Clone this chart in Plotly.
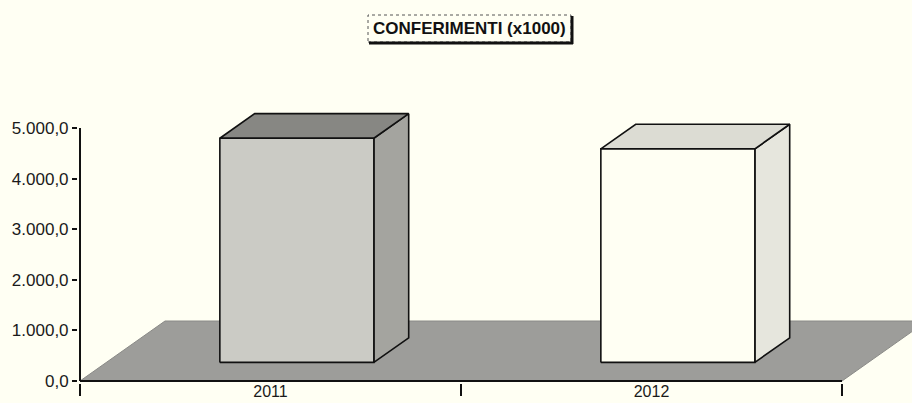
import plotly.graph_objects as go

# ---------------- data ----------------
categories = ["2011", "2012"]
values = [4430, 4220]
y_tick_values = [0, 1000, 2000, 3000, 4000, 5000]
chart_title = "CONFERIMENTI (x1000)"

# ---------------- layout geometry (pixels) ----------------
W, H = 912, 403
ML, MR, MT, MB = 78, 0, 101, 20
PX_PER_CAT = 381.0        # pixels per category on x
PX_PER_UNIT = 0.0506      # pixels per value unit on y

plot_w = W - ML - MR
plot_h = H - MT - MB
x_lo = -2 / PX_PER_CAT
x_range = [x_lo, x_lo + plot_w / PX_PER_CAT]
y_lo = -2 / PX_PER_UNIT
y_range = [y_lo, y_lo + plot_h / PX_PER_UNIT]

# 3D depth vector of the floor, in data units
DX = 85 / PX_PER_CAT
DY = 60 / PX_PER_UNIT
BAR_W = 154 / PX_PER_CAT
D_FRONT, D_BACK = 0.31, 0.72

BG = "#FFFFF3"
FONT = "Liberation Sans, Arial, sans-serif"

bar_styles = [
    dict(front="#cbcbc5", top="#878783", side="#a4a49f"),
    dict(front=BG, top="#dcdcd3", side="#e6e6dd"),
]

n = len(categories)
fig = go.Figure()

# floor
fig.add_trace(go.Scatter(
    x=[0, n, n + DX, DX, 0], y=[0, 0, DY, DY, 0],
    mode="lines", fill="toself", fillcolor="#9d9d9a",
    line=dict(color="#8a8a87", width=1), hoverinfo="skip", showlegend=False))

# bars
ddx = (D_BACK - D_FRONT) * DX
ddy = (D_BACK - D_FRONT) * DY
for i, (cat, v) in enumerate(zip(categories, values)):
    st = bar_styles[i]
    L = i + 0.5 - BAR_W / 2 + D_FRONT * DX
    R = L + BAR_W
    yb = D_FRONT * DY
    yt = yb + v
    faces = [
        ([R, R + ddx, R + ddx, R, R], [yb, yb + ddy, yt + ddy, yt, yb], st["side"]),
        ([L, R, R + ddx, L + ddx, L], [yt, yt, yt + ddy, yt + ddy, yt], st["top"]),
        ([L, R, R, L, L], [yb, yb, yt, yt, yb], st["front"]),
    ]
    for fx, fy, col in faces:
        fig.add_trace(go.Scatter(
            x=fx, y=fy, mode="lines", fill="toself", fillcolor=col,
            line=dict(color="#111111", width=1.6), name=cat,
            hoverinfo="skip", showlegend=False))

# front edge of floor (x axis line)
fig.add_trace(go.Scatter(
    x=[0, n], y=[0, 0], mode="lines",
    line=dict(color="#111111", width=2), hoverinfo="skip", showlegend=False))

def px_to_paper_x(px):
    return (px - ML) / plot_w

def px_to_paper_y(py):
    return (H - MB - py) / plot_h

shapes = [
    # y axis line
    dict(type="line", xref="paper", yref="y",
         x0=px_to_paper_x(80), x1=px_to_paper_x(80),
         y0=0, y1=y_tick_values[-1], line=dict(color="#111111", width=2)),
    # title box
    dict(type="rect", xref="paper", yref="paper",
         x0=px_to_paper_x(368), x1=px_to_paper_x(571),
         y0=px_to_paper_y(42), y1=px_to_paper_y(15),
         line=dict(color="#555555", width=1, dash="dot"), fillcolor=BG),
    dict(type="line", xref="paper", yref="paper",
         x0=px_to_paper_x(572), x1=px_to_paper_x(572),
         y0=px_to_paper_y(44), y1=px_to_paper_y(16),
         line=dict(color="#111111", width=3)),
    dict(type="line", xref="paper", yref="paper",
         x0=px_to_paper_x(369), x1=px_to_paper_x(573),
         y0=px_to_paper_y(43), y1=px_to_paper_y(43),
         line=dict(color="#111111", width=3)),
]

fig.update_layout(
    width=W, height=H,
    margin=dict(l=ML, r=MR, t=MT, b=MB, pad=0),
    paper_bgcolor=BG, plot_bgcolor=BG,
    separators=",.",
    font=dict(family=FONT, size=17, color="#1a1a1a"),
    shapes=shapes,
    annotations=[dict(
        text="<b>" + chart_title + "</b>", xref="paper", yref="paper",
        x=px_to_paper_x(469), y=px_to_paper_y(28.5),
        xanchor="center", yanchor="middle", showarrow=False,
        font=dict(family=FONT, size=17, color="#111111"))],
    xaxis=dict(
        range=x_range, showgrid=False, zeroline=False, showline=False,
        tickmode="array", tickvals=[i + 0.5 for i in range(n)], ticktext=categories,
        ticks="", automargin=False, ticklabelstandoff=-3,
        tickfont=dict(family=FONT, size=16, color="#1a1a1a"),
        minor=dict(tickmode="array", tickvals=list(range(n + 1)), ticks="outside",
                   ticklen=12, tickwidth=2, tickcolor="#111111", showgrid=False),
    ),
    yaxis=dict(
        range=y_range, showgrid=False, zeroline=False, showline=False,
        tickmode="array", tickvals=y_tick_values, tickformat=",.1f",
        ticks="outside", ticklen=5, tickwidth=1.5, tickcolor="#111111",
        automargin=False,
        tickfont=dict(family=FONT, size=17, color="#1a1a1a"),
    ),
)

fig.write_html(
    "out.html",
    config={"displayModeBar": False},
    post_script="document.body.style.margin='0';document.body.style.background='" + BG + "';",
)
